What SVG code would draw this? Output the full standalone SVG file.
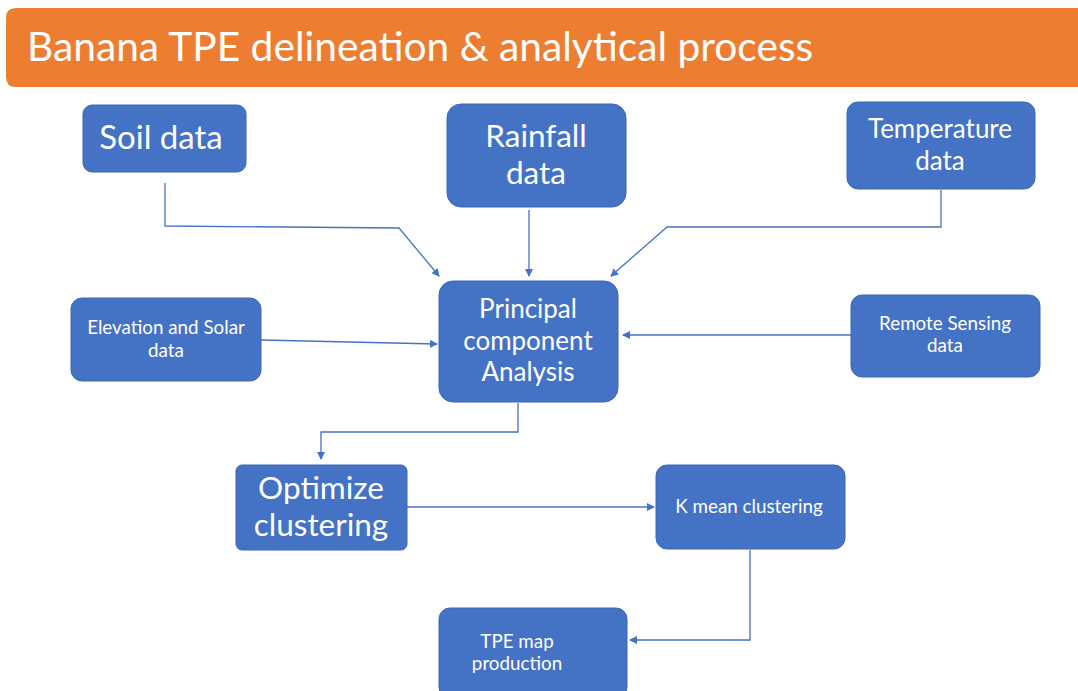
<svg xmlns="http://www.w3.org/2000/svg" width="1078" height="691" viewBox="0 0 1078 691">
<defs>
<style>
.box{fill:#4472C4;stroke:#3d67b3;stroke-width:1}
.t{font-family:Lato,"Open Sans","Liberation Sans",sans-serif;fill:#fff;text-anchor:middle}
.big{font-size:31.5px}
.mid{font-size:26px}
.sm{font-size:18.8px}
.c{fill:none;stroke:#4472C4;stroke-width:1.3;marker-end:url(#ah)}
</style>
<marker id="ah" markerWidth="8" markerHeight="8" refX="7" refY="4" orient="auto" markerUnits="userSpaceOnUse">
<path d="M0,0 L8,4 L0,8 Z" fill="#4472C4"/>
</marker>
</defs>
<rect width="1078" height="691" fill="#fff"/>
<g id="title">
<path d="M16,8 H1078 V87 H16 Q6,87 6,77 V18 Q6,8 16,8 Z" fill="#ED7D31"/>
<text x="27" y="61" font-family="Lato,'Open Sans','Liberation Sans',sans-serif" font-size="40.7" fill="#fff">Banana TPE delineation &amp; analytical process</text>
</g>
<g id="connectors">
<path class="c" d="M165,183 V226 L399,228 L439,276"/>
<path class="c" d="M529,210 V276"/>
<path class="c" d="M941,190 V227 H667 L611,276"/>
<path class="c" d="M261,340 L437,344"/>
<path class="c" d="M851,335 H623"/>
<path class="c" d="M518,403 V432 H321 V459"/>
<path class="c" d="M407,507 H654"/>
<path class="c" d="M750,550 V640 H630"/>
</g>
<g id="soil"><rect class="box" x="83" y="105" width="163" height="67" rx="9"/><text class="t" font-size="33" x="161" y="149">Soil data</text></g>
<g id="rainfall"><rect class="box" x="447" y="104" width="179" height="103" rx="14"/><text class="t big" x="536" y="147">Rainfall</text><text class="t big" x="536" y="184">data</text></g>
<g id="temperature"><rect class="box" x="847" y="102" width="188" height="87" rx="11"/><text class="t mid" x="940" y="138">Temperature</text><text class="t mid" x="940" y="170">data</text></g>
<g id="elevation"><rect class="box" x="71" y="298" width="190" height="83" rx="11"/><text class="t sm" x="166" y="334">Elevation and Solar</text><text class="t sm" x="166" y="357">data</text></g>
<g id="pca"><rect class="box" x="439" y="281" width="179" height="121" rx="14"/><text class="t mid" x="528" y="318">Principal</text><text class="t mid" x="528" y="350">component</text><text class="t mid" x="528" y="381">Analysis</text></g>
<g id="remote"><rect class="box" x="851" y="295" width="189" height="82" rx="11"/><text class="t sm" x="945" y="330">Remote Sensing</text><text class="t sm" x="945" y="352">data</text></g>
<g id="optimize"><rect class="box" x="236" y="465" width="171" height="85" rx="6"/><text class="t big" x="321" y="499">Optimize</text><text class="t big" x="321" y="536">clustering</text></g>
<g id="kmean"><rect class="box" x="656" y="465" width="189" height="84" rx="11"/><text class="t sm" x="749" y="513">K mean clustering</text></g>
<g id="tpe"><rect class="box" x="439" y="608" width="188" height="90" rx="11"/><text class="t sm" x="517" y="648">TPE map</text><text class="t sm" x="517" y="670">production</text></g>
</svg>
